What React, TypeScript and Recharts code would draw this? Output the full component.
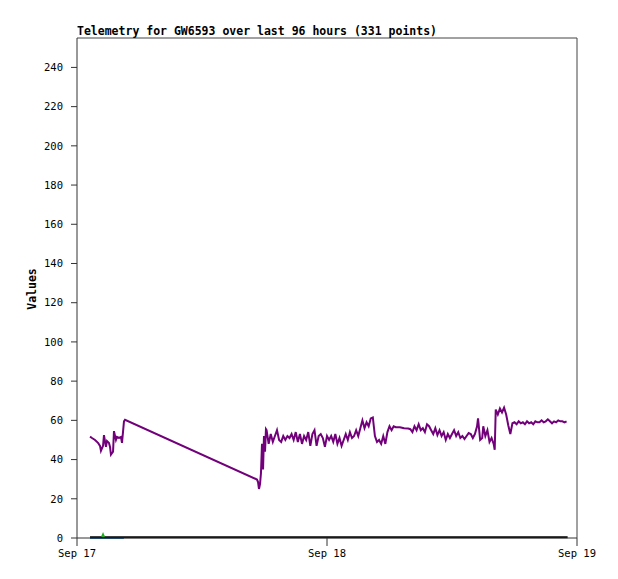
import { LineChart, Line, XAxis, YAxis, ReferenceLine } from 'recharts'

// hours since Sep 17 00:00, value
const purplePoints: [number, number][] = [
  [1.25, 51.7], [1.44, 51], [1.73, 50], [2.02, 48.5], [2.21, 47], [2.3, 44.5], [2.5, 47],
  [2.59, 52.5], [2.78, 46.5], [2.88, 49.5], [3.07, 48.5], [3.17, 46.5], [3.26, 42.5],
  [3.46, 44], [3.55, 54.5], [3.74, 50], [3.84, 51.5], [4.03, 51], [4.22, 51.5], [4.32, 48.5],
  [4.51, 59.5], [4.61, 60.3],
  [17.28, 29.8], [17.38, 28.5], [17.47, 25], [17.57, 27.5], [17.66, 33], [17.76, 48],
  [17.86, 35], [17.95, 52], [18.05, 44], [18.14, 55.5],
  [18.2, 55], [18.4, 48], [18.6, 53], [18.8, 49], [19.0, 52], [19.2, 55], [19.4, 50],
  [19.6, 49], [19.8, 52], [20.0, 50], [20.2, 52], [20.4, 51], [20.6, 53], [20.8, 50],
  [21.0, 54], [21.2, 49], [21.4, 53], [21.6, 48], [21.8, 52], [22.0, 50], [22.2, 54],
  [22.4, 47], [22.6, 53], [22.8, 55], [23.0, 47], [23.2, 52], [23.4, 53], [23.6, 51],
  [23.8, 46.5], [24.0, 52], [24.2, 50], [24.4, 52], [24.6, 49], [24.8, 53], [25.0, 48],
  [25.2, 51], [25.4, 47], [25.6, 50], [25.8, 53], [26.0, 50], [26.2, 54], [26.4, 51],
  [26.6, 52], [26.8, 55], [27.0, 52], [27.2, 56], [27.4, 60], [27.6, 56], [27.8, 59],
  [28.0, 57], [28.2, 61], [28.4, 61.5], [28.6, 52], [28.8, 49], [29.0, 50], [29.2, 48],
  [29.4, 52], [29.6, 48], [29.8, 54], [30.0, 57], [30.2, 55], [30.4, 57], [30.6, 56.5],
  [31.0, 56.5], [31.4, 56], [31.8, 55.8], [32.0, 55.5], [32.2, 54], [32.4, 57], [32.6, 55],
  [32.8, 58], [33.0, 55], [33.2, 56], [33.4, 54], [33.6, 58], [33.8, 57], [34.0, 55],
  [34.2, 53], [34.4, 56], [34.6, 52.5], [34.8, 55], [35.0, 52], [35.2, 54], [35.4, 50],
  [35.6, 53], [35.8, 51], [36.0, 53], [36.2, 55], [36.4, 52], [36.6, 54], [36.8, 51],
  [37.0, 52], [37.2, 50.5], [37.4, 52], [37.6, 53.5], [37.8, 53], [38.0, 51], [38.2, 53],
  [38.4, 56.8], [38.5, 61], [38.7, 50], [38.9, 51], [39.0, 57], [39.2, 52], [39.4, 55],
  [39.6, 49], [39.8, 51], [40.0, 48], [40.1, 45], [40.2, 65.5], [40.4, 63], [40.6, 66],
  [40.8, 64], [41.0, 66.5], [41.2, 63], [41.4, 57.5], [41.6, 53], [41.8, 58.5], [42.0, 59],
  [42.2, 58], [42.4, 59.5], [42.6, 58.5], [42.8, 59], [43.0, 58], [43.2, 59.5], [43.4, 58.5],
  [43.6, 59], [43.8, 58], [44.0, 59.5], [44.2, 59], [44.4, 59], [44.6, 60], [44.8, 59],
  [45.0, 59.5], [45.2, 60.5], [45.4, 59.5], [45.6, 58.5], [45.8, 59.5], [46.0, 59],
  [46.2, 60], [46.4, 59.5], [46.6, 59.5], [46.8, 59], [47.0, 59.5],
]

const bluePoints: [number, number][] = [
  [1.25, 0], [2.5, 0], [3.4, 0], [3.6, 0], [3.9, 0], [4.03, 0], [4.5, 0],
]

const greenPoints: [number, number][] = [
  [2.4, 0.6], [2.5, 1.8], [2.6, 0.6],
]

const blackPoints: [number, number][] = [
  [1.25, 0.4], [3.4, 0.4], [3.5, 0.4], [4.0, 0.4], [4.6, 0.4], [17.3, 0.4], [47.1, 0.4],
]

const dayTicks = [0, 24, 48]
const dayLabels = ['Sep 17', 'Sep 18', 'Sep 19']
const valueTicks = [0, 20, 40, 60, 80, 100, 120, 140, 160, 180, 200, 220, 240]

const toRows = (pts: [number, number][]) => pts.map(([h, v]) => ({ h, v }))

const tickStyle = { fontFamily: 'DejaVu Sans Mono', fontSize: 10.5, fill: '#000' }

export default function App() {
  return (
    <div style={{ position: 'absolute', top: 0, left: 0, width: 618, height: 579, background: '#fff' }}>
      <LineChart
        width={618}
        height={579}
        margin={{ top: 38, right: 41, left: 17, bottom: 11 }}
      >
        <XAxis
          type="number"
          dataKey="h"
          domain={[0, 48]}
          ticks={dayTicks}
          tickFormatter={(t: number) => dayLabels[dayTicks.indexOf(t)]}
          height={30}
          tickSize={8}
          tickMargin={4}
          stroke="#333"
          tick={tickStyle}
        />
        <YAxis
          type="number"
          domain={[0, 255]}
          ticks={valueTicks}
          width={60}
          tickSize={6}
          tickMargin={8}
          stroke="#333"
          tick={tickStyle}
        />
        <ReferenceLine y={255} stroke="#444" />
        <ReferenceLine x={48} stroke="#444" />
        <Line data={toRows(bluePoints)} dataKey="v" stroke="#1f7fd8" strokeWidth={2} dot={false} isAnimationActive={false} />
        <Line data={toRows(blackPoints)} dataKey="v" stroke="#000" strokeWidth={2} dot={false} isAnimationActive={false} />
        <Line data={toRows(greenPoints)} dataKey="v" stroke="#22b222" strokeWidth={2} dot={false} isAnimationActive={false} />
        <Line data={toRows(purplePoints)} dataKey="v" stroke="#72007a" strokeWidth={2} dot={false} isAnimationActive={false} />
      </LineChart>
      <svg width={618} height={579} style={{ position: 'absolute', top: 0, left: 0, pointerEvents: 'none' }}>
        <text x={77} y={35} fontFamily="DejaVu Sans Mono" fontSize={11.5} fontWeight="bold" fill="#000">
          Telemetry for GW6593 over last 96 hours (331 points)
        </text>
        <text
          x={36}
          y={289}
          transform="rotate(-90, 36, 289)"
          textAnchor="middle"
          fontFamily="DejaVu Sans Mono"
          fontSize={11.5}
          fontWeight="bold"
          fill="#000"
        >
          Values
        </text>
      </svg>
    </div>
  )
}
